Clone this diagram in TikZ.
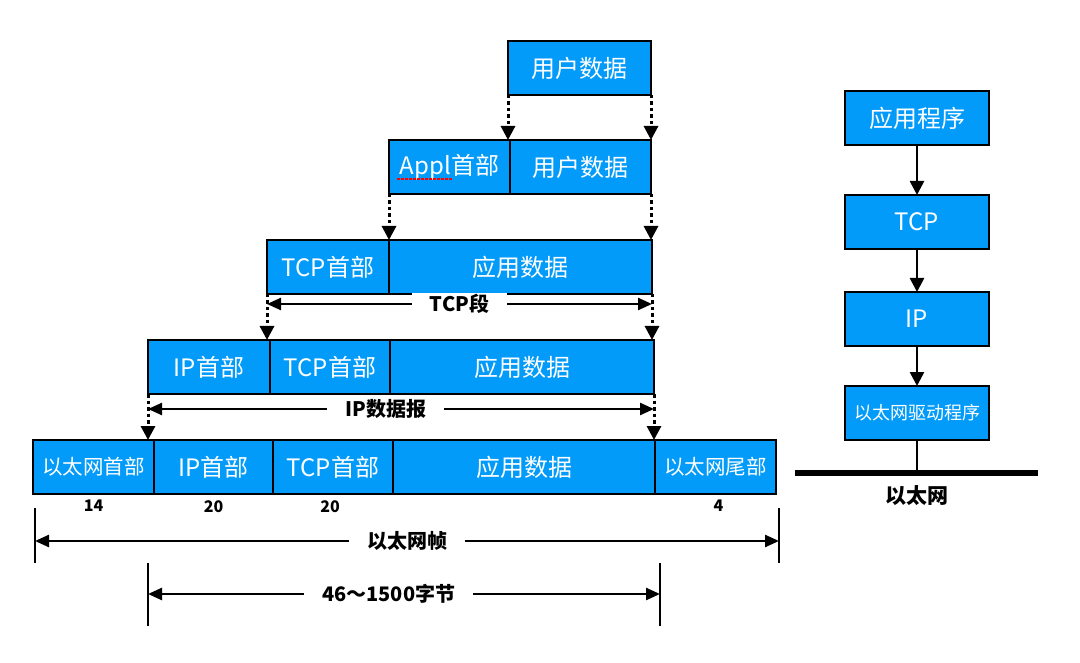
\documentclass[tikz,border=0pt]{standalone}
\usepackage{fontspec}
\newfontfamily\cjk{Noto Sans CJK SC}
\usepackage{tikz}
\usetikzlibrary{arrows.meta}
\usetikzlibrary{positioning}
\definecolor{pktblue}{RGB}{3,155,250}
\tikzstyle{cell} = [rectangle, minimum height=54pt, inner sep=0pt, outer sep=0pt, text centered, draw=black, line width=2.6pt, fill=pktblue, text=white, font=\cjk\fontsize{24}{28}\selectfont]
\tikzstyle{smallcell} = [cell, font=\cjk\fontsize{20.5}{24}\selectfont]
\tikzstyle{layer} = [cell, minimum width=144pt]
\tikzstyle{dotarrow} = [line width=3pt, dash pattern=on 3.5pt off 3pt, -{Triangle[length=14pt,width=14pt]}]
\tikzstyle{arrow} = [line width=2.6pt, -{Triangle[length=14pt,width=14pt]}]
\tikzstyle{span} = [line width=2.4pt, {Triangle[length=14pt,width=12pt]}-{Triangle[length=14pt,width=12pt]}]
\tikzstyle{lbl} = [fill=white, inner xsep=18pt, inner ysep=1pt, font=\cjk\bfseries\fontsize{20}{23}\selectfont]
\tikzstyle{num} = [inner sep=0pt, font=\cjk\bfseries\fontsize{16}{18}\selectfont]
\tikzstyle{tick} = [line width=2.6pt]

\begin{document}
\begin{tikzpicture}[x=1pt, y=-1pt]
\useasboundingbox (0,0) rectangle (1080,663);
% packets
\node (user1) [cell, minimum width=143pt, anchor=north west] at (508,41) {用户数据};

\node (appl2) [cell, minimum width=121pt, anchor=north west] at (389,140) {Appl首部};
\node (user2) [cell, minimum width=141pt, right=0pt of appl2] {用户数据};

\node (tcp3) [cell, minimum width=122pt, anchor=north west] at (267,240) {TCP首部};
\node (data3) [cell, minimum width=263pt, right=0pt of tcp3] {应用数据};

\node (ip4) [cell, minimum width=122pt, anchor=north west] at (148,340) {IP首部};
\node (tcp4) [cell, minimum width=120pt, right=0pt of ip4] {TCP首部};
\node (data4) [cell, minimum width=264pt, right=0pt of tcp4] {应用数据};

\node (eth5) [smallcell, minimum width=121pt, anchor=north west] at (33,440) {以太网首部};
\node (ip5) [cell, minimum width=119pt, right=0pt of eth5] {IP首部};
\node (tcp5) [cell, minimum width=120pt, right=0pt of ip5] {TCP首部};
\node (data5) [cell, minimum width=262pt, right=0pt of tcp5] {应用数据};
\node (tail5) [smallcell, minimum width=121pt, right=0pt of data5] {以太网尾部};

\draw [red, line width=1.3pt, dash pattern=on 2.5pt off 1.5pt] ([xshift=8pt,yshift=-12pt]appl2.west) -- ++(55,0);

\node [num, below=6pt of eth5] {14};
\node [num, below=6pt of ip5] {20};
\node [num, xshift=-3pt, below=6pt of tcp5] {20};
\node [num, xshift=3pt, below=6pt of tail5] {4};

% spans
\draw [span] ([yshift=-10pt]tcp3.south west) -- node[lbl] {TCP段} ([yshift=-10pt]data3.south east);
\draw [span] ([yshift=-15pt]ip4.south west) -- node[lbl, pos=0.47] {IP数据报} ([yshift=-15pt]data4.south east);

\coordinate (f1) at ([xshift=2pt,yshift=-14pt]eth5.south west);
\coordinate (f2) at ([xshift=3pt,yshift=-14pt]tail5.south east);
\draw [tick] (f1) -- ++(0,55);
\draw [tick] (f2) -- ++(0,55);
\draw [span] ([yshift=-33pt]f1) -- node[lbl] {以太网帧} ([yshift=-33pt]f2);

\coordinate (p1) at ([yshift=-55pt]f1 -| ip4.west);
\coordinate (p2) at ([xshift=5pt,yshift=-55pt]f1 -| data5.east);
\draw [tick] (p1) -- ++(0,63);
\draw [tick] (p2) -- ++(0,63);
\draw [span] ([yshift=-31pt]p1) -- node[lbl, pos=0.47] {46～1500字节} ([yshift=-31pt]p2);

% encapsulation
\draw [dotarrow] (user1.south west) -- (user1.south west |- user2.north);
\draw [dotarrow] (user1.south east) -- (user1.south east |- user2.north);
\draw [dotarrow] (appl2.south west) -- (appl2.south west |- data3.north);
\draw [dotarrow] (user2.south east) -- (user2.south east |- data3.north);
\draw [dotarrow] (tcp3.south west) -- (tcp3.south west |- ip4.north);
\draw [dotarrow] (data3.south east) -- (data3.south east |- data4.north);
\draw [dotarrow] (ip4.south west) -- (ip4.south west |- eth5.north);
\draw [dotarrow] (data4.south east) -- (data4.south east |- data5.north);

% protocol stack
\node (app) [layer, anchor=north west] at (845,91) {应用程序};
\node (tcpl) [layer, below=50pt of app] {TCP};
\node (ipl) [layer, below=43pt of tcpl] {IP};
\node (drv) [layer, below=40pt of ipl, font=\cjk\fontsize{18}{21}\selectfont] {以太网驱动程序};
\draw [arrow] (app) -- (tcpl);
\draw [arrow] (tcpl) -- (ipl);
\draw [arrow] (ipl) -- (drv);

\coordinate (busL) at (795,473);
\coordinate (busR) at (1038,473);
\draw [line width=6pt] (busL) -- (busR);
\draw [line width=2.6pt] (drv) -- (drv.south |- busL);
\node (eth) [below=9pt of drv.south |- busL, font=\cjk\bfseries\fontsize{21}{24}\selectfont] {以太网};
\end{tikzpicture}
\end{document}
